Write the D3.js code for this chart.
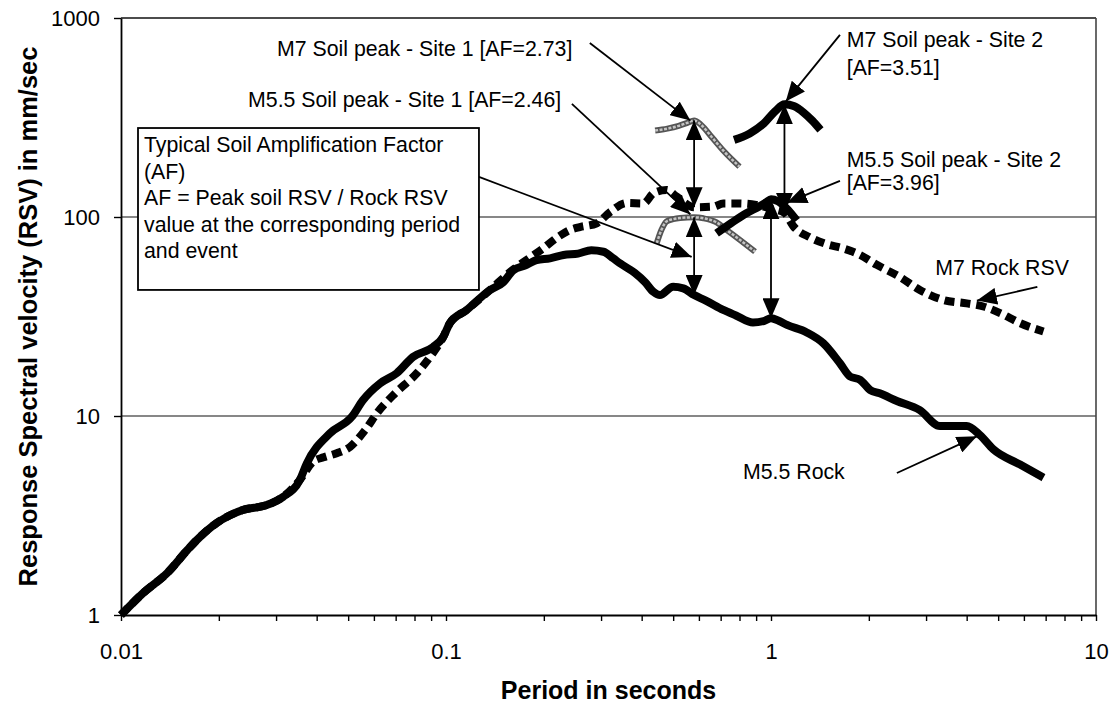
<!DOCTYPE html>
<html>
<head>
<meta charset="utf-8">
<script src="https://cdn.jsdelivr.net/npm/d3@7"></script>
<style>
  html, body { margin: 0; padding: 0; background: #fff; }
  svg { display: block; font-family: "Liberation Sans", Arial, sans-serif; }
</style>
</head>
<body>
<svg id="chart" width="1115" height="705"></svg>
<script>
// Response spectral velocity (mm/s) against period (s), log-log.

// M5.5 rock response spectrum
const m55RockPeriod = [0.01, 0.0117, 0.0139, 0.016, 0.0171, 0.0197, 0.0237, 0.0281, 0.0315, 0.0355,
  0.0373, 0.044, 0.0513, 0.0555, 0.0627, 0.0705, 0.0791, 0.0912, 0.098, 0.1028, 0.1158, 0.1366,
  0.15, 0.161, 0.177, 0.19, 0.209, 0.23, 0.255, 0.28, 0.305, 0.327, 0.343, 0.38, 0.41, 0.435,
  0.455, 0.5, 0.537, 0.58, 0.63, 0.713, 0.78, 0.88, 0.95, 1.0, 1.06, 1.12, 1.288, 1.449, 1.63,
  1.75, 1.88, 2.02, 2.16, 2.44, 2.87, 3.31, 4.0, 4.4, 4.83, 5.84, 6.89];
const m55RockRSV = [1.0, 1.29, 1.63, 2.12, 2.38, 2.9, 3.37, 3.57, 3.92, 4.77,
  5.78, 8.2, 9.9, 12.0, 14.6, 16.4, 19.8, 22.2, 24.9, 29.3, 34.1, 43,
  47, 54, 57.4, 60.8, 62.0, 64.4, 65.5, 68, 66.9, 62, 58.5, 52.5, 47, 42,
  40.5, 44.6, 43.8, 40.5, 38, 34.1, 32, 29.5, 30, 31, 30, 28.7, 26.3, 23.2, 18.4,
  15.8, 15.2, 13.5, 13.0, 11.9, 10.7, 8.9, 8.9, 8.0, 6.8, 5.7, 4.9];

// M7 rock response spectrum
const m7RockPeriod = [0.01, 0.0117, 0.0139, 0.016, 0.0171, 0.0197, 0.0237, 0.0281, 0.0315, 0.0355,
  0.039, 0.042, 0.0461, 0.0507, 0.0564, 0.0618, 0.0697, 0.0813, 0.0893, 0.098, 0.1028, 0.1158,
  0.1366, 0.16, 0.18, 0.196, 0.2216, 0.2407, 0.258, 0.291, 0.32, 0.36, 0.405, 0.435, 0.477,
  0.513, 0.58, 0.665, 0.713, 0.792, 0.9, 1.0, 1.1, 1.171, 1.318, 1.484, 1.669, 1.879, 2.115,
  2.49, 2.87, 3.39, 4.0, 4.5, 5.07, 5.84, 6.89];
const m7RockRSV = [1.0, 1.29, 1.63, 2.12, 2.38, 2.9, 3.37, 3.57, 3.92, 4.77,
  5.9, 6.2, 6.5, 7.0, 8.5, 10.5, 13.0, 16.4, 19.8, 24.9, 29.3, 34.1,
  43, 54, 62, 68.3, 79.6, 86, 89, 93, 106, 117.6, 117, 131.6, 136.7,
  126.5, 112, 112.7, 117, 117, 115, 110, 105, 90, 79, 73, 69.5, 64.5, 57.5,
  50, 43, 38.3, 36.8, 35.5, 32.9, 29.3, 26.6];

// Soil response around the spectral peaks
const m7Soil1Period = [0.44, 0.48, 0.52, 0.555, 0.58, 0.61, 0.66, 0.72, 0.8];
const m7Soil1RSV = [272, 278, 287, 298, 305.8, 290, 250, 212, 179];
const m55Soil1Period = [0.445, 0.46, 0.477, 0.5, 0.525, 0.58, 0.62, 0.68, 0.731, 0.8, 0.893];
const m55Soil1RSV = [73.8, 86, 95, 97.5, 98.8, 99.6, 98.5, 94, 86, 77, 67];
const m7Soil2Period = [0.77, 0.86, 0.95, 1.03, 1.1, 1.18, 1.26, 1.34, 1.42];
const m7Soil2RSV = [244, 263, 295, 340, 368.6, 360, 335, 305, 274];
const m55Soil2Period = [0.68, 0.76, 0.84, 0.92, 0.97, 1.0, 1.05, 1.12, 1.2];
const m55Soil2RSV = [82.8, 94, 104.4, 113, 119, 122.8, 120, 110, 96];

// Amplification factor markers: period, rock RSV, factor (soil peak = rock x AF)
const ampPeriod = [0.58, 0.58, 1.1, 1.0];
const ampRockRSV = [112, 40.5, 105, 31];
const ampFactor = [2.73, 2.46, 3.51, 3.96];

// Axis ticks
const xMajorTicks = [0.01, 0.1, 1, 10];
const xTickLabels = ["0.01", "0.1", "1", "10"];
const yMajorTicks = [1, 10, 100, 1000];
const yTickLabels = ["1", "10", "100", "1000"];

const zip = (a, b) => a.map((v, i) => [v, b[i]]);

const svg = d3.select("#chart");
const plotLeft = 121, plotRight = 1096, plotTop = 18, plotBottom = 615;

const x = d3.scaleLog().domain([0.01, 10]).range([plotLeft, plotRight]);
const y = d3.scaleLog().domain([1, 1000]).range([plotBottom, plotTop]);

// arrowhead marker
const defs = svg.append("defs");
defs.append("marker")
  .attr("id", "head")
  .attr("viewBox", "-20 -8.5 20 17")
  .attr("refX", 0).attr("refY", 0)
  .attr("markerWidth", 20).attr("markerHeight", 17)
  .attr("markerUnits", "userSpaceOnUse")
  .attr("orient", "auto-start-reverse")
  .append("path")
  .attr("d", "M0,0 L-20,-8.5 L-20,8.5 Z")
  .attr("fill", "#000");

// horizontal gridlines and plot frame
const grid = svg.append("g");
[10, 100].forEach(v => {
  grid.append("line")
    .attr("x1", plotLeft).attr("x2", plotRight)
    .attr("y1", y(v)).attr("y2", y(v))
    .attr("stroke", "#111").attr("stroke-width", 1.2);
});
grid.append("line")
  .attr("x1", plotLeft).attr("x2", plotRight)
  .attr("y1", y(1000)).attr("y2", y(1000))
  .attr("stroke", "#111").attr("stroke-width", 1.6);
grid.append("line")
  .attr("x1", plotRight).attr("x2", plotRight)
  .attr("y1", plotTop).attr("y2", plotBottom)
  .attr("stroke", "#444").attr("stroke-width", 1.6);

const line = d3.line()
  .x(d => x(d[0]))
  .y(d => y(d[1]))
  .curve(d3.curveMonotoneX);

const series = svg.append("g").attr("fill", "none");

// M7 rock (dashed square markers)
series.append("path")
  .attr("d", line(zip(m7RockPeriod, m7RockRSV)))
  .attr("stroke", "#000").attr("stroke-width", 8)
  .attr("stroke-dasharray", "10,6");

// M5.5 rock (solid)
series.append("path")
  .attr("d", line(zip(m55RockPeriod, m55RockRSV)))
  .attr("stroke", "#000").attr("stroke-width", 8)
  .attr("stroke-linejoin", "round");

// Site 1 soil curves (grey)
[zip(m7Soil1Period, m7Soil1RSV), zip(m55Soil1Period, m55Soil1RSV)].forEach(pts => {
  series.append("path").attr("d", line(pts))
    .attr("stroke", "#555").attr("stroke-width", 6);
  series.append("path").attr("d", line(pts))
    .attr("stroke", "#c4c4c4").attr("stroke-width", 2.5)
    .attr("stroke-dasharray", "3,1.5");
});

// Site 2 soil curves (black)
[zip(m7Soil2Period, m7Soil2RSV), zip(m55Soil2Period, m55Soil2RSV)].forEach(pts => {
  series.append("path").attr("d", line(pts))
    .attr("stroke", "#000").attr("stroke-width", 8);
});

// amplification double arrows, rock value to soil peak
const ann = svg.append("g");
ampPeriod.forEach((p, i) => {
  ann.append("line")
    .attr("x1", x(p)).attr("x2", x(p))
    .attr("y1", y(ampRockRSV[i])).attr("y2", y(ampRockRSV[i] * ampFactor[i]))
    .attr("stroke", "#000").attr("stroke-width", 1.8)
    .attr("marker-start", "url(#head)")
    .attr("marker-end", "url(#head)");
});

// label leader arrows: [tail period, tail RSV, tip period, tip RSV]
const leaders = [
  [0.277, 749, 0.565, 305],
  [0.244, 370, 0.565, 103],
  [0.1263, 159, 0.57, 63],
  [1.63, 822, 1.11, 380],
  [1.63, 152, 1.12, 118],
  [6.6, 44.5, 4.3, 38],
  [2.44, 5.17, 4.3, 7.9]
];
leaders.forEach(l => {
  ann.append("line")
    .attr("x1", x(l[0])).attr("y1", y(l[1]))
    .attr("x2", x(l[2])).attr("y2", y(l[3]))
    .attr("stroke", "#000").attr("stroke-width", 1.8)
    .attr("marker-end", "url(#head)");
});

// annotation text: [text, period at left edge, RSV at baseline]
const labels = [
  [`M7 Soil peak - Site 1 [AF=${ampFactor[0].toFixed(2)}]`, 0.0302, 644],
  [`M5.5 Soil peak - Site 1 [AF=${ampFactor[1].toFixed(2)}]`, 0.0246, 358],
  ["M7 Soil peak - Site 2", 1.71, 717],
  [`[AF=${ampFactor[2].toFixed(2)}]`, 1.71, 517],
  ["M5.5 Soil peak - Site 2", 1.71, 179],
  [`[AF=${ampFactor[3].toFixed(2)}]`, 1.71, 137],
  ["M7 Rock RSV", 3.2, 51.1],
  ["M5.5 Rock", 0.82, 4.81]
];
labels.forEach(l => {
  ann.append("text")
    .attr("x", x(l[1])).attr("y", y(l[2]))
    .attr("font-size", 21.3).attr("fill", "#000")
    .text(l[0]);
});

// explanatory box
const boxX0 = x(0.01128), boxX1 = x(0.1263), boxY0 = y(280), boxY1 = y(43);
ann.append("rect")
  .attr("x", boxX0).attr("y", boxY0)
  .attr("width", boxX1 - boxX0).attr("height", boxY1 - boxY0)
  .attr("fill", "#fff").attr("stroke", "#000").attr("stroke-width", 1.8);
const boxLines = ["Typical Soil Amplification Factor", "(AF)",
  "AF = Peak soil RSV / Rock RSV", "value at the corresponding period", "and event"];
boxLines.forEach((t, i) => {
  ann.append("text")
    .attr("x", boxX0 + 6).attr("y", boxY0 + 24 + i * 26.5)
    .attr("font-size", 21.3).attr("fill", "#000")
    .text(t);
});

// axes
const xTickVals = [];
[0.01, 0.1, 1].forEach(d => { for (let k = 1; k <= 9; k++) xTickVals.push(+(d * k).toPrecision(3)); });
xTickVals.push(10);
const xAxis = d3.axisBottom(x)
  .tickValues(xTickVals)
  .tickFormat(d => {
    const i = xMajorTicks.findIndex(m => Math.abs(m - d) < 1e-9);
    return i >= 0 ? xTickLabels[i] : "";
  })
  .tickSize(6).tickSizeOuter(0).tickPadding(22);
const gx = svg.append("g").attr("transform", `translate(0,${plotBottom})`).call(xAxis);

const yAxis = d3.axisLeft(y)
  .tickValues(yMajorTicks)
  .tickFormat((d, i) => yTickLabels[i])
  .tickSize(7).tickSizeOuter(0).tickPadding(14);
const gy = svg.append("g").attr("transform", `translate(${plotLeft},0)`).call(yAxis);

[gx, gy].forEach(g => {
  g.select(".domain").attr("stroke", "#000").attr("stroke-width", 1.8);
  g.selectAll(".tick line").attr("stroke", "#000").attr("stroke-width", 1.4);
  g.selectAll(".tick text")
    .attr("font-family", "'Liberation Sans', Arial, sans-serif")
    .attr("font-size", 22).attr("fill", "#000");
});

// axis titles
svg.append("text")
  .attr("x", (plotLeft + plotRight) / 2).attr("y", 699)
  .attr("text-anchor", "middle")
  .attr("font-size", 25).attr("font-weight", "bold")
  .text("Period in seconds");
svg.append("text")
  .attr("transform", `translate(37,${(plotTop + plotBottom) / 2}) rotate(-90)`)
  .attr("text-anchor", "middle")
  .attr("font-size", 25.5).attr("font-weight", "bold")
  .text("Response Spectral velocity (RSV) in mm/sec");
</script>
</body>
</html>
